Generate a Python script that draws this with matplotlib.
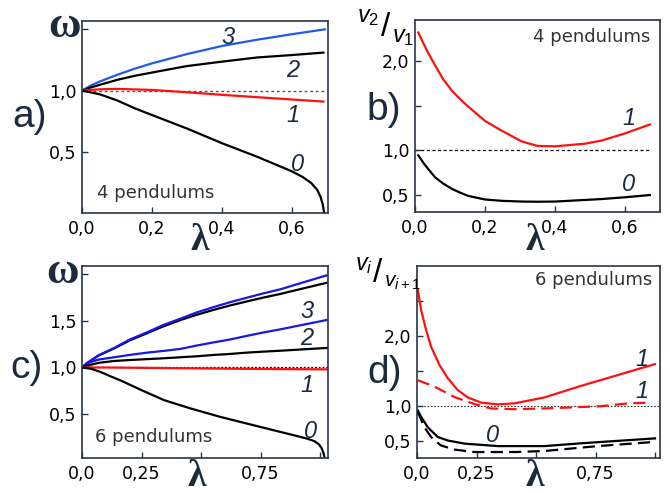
import matplotlib
matplotlib.use("Agg")
import matplotlib.pyplot as plt

# ── Data ─────────────────────────────────────────────────────────────────────
# a) 4 pendulums, frequencies
xa_3 = [0, 0.025, 0.05, 0.1, 0.15, 0.2, 0.3, 0.4, 0.5, 0.6, 0.694]
wa_3 = [1.0, 1.04, 1.073, 1.128, 1.178, 1.222, 1.298, 1.364, 1.415, 1.46, 1.50]
xa_2 = [0, 0.025, 0.05, 0.1, 0.15, 0.2, 0.3, 0.4, 0.5, 0.6, 0.69]
wa_2 = [1.0, 1.025, 1.046, 1.087, 1.12, 1.147, 1.20, 1.236, 1.27, 1.29, 1.31]
xa_1 = [0, 0.05, 0.1, 0.2, 0.3, 0.4, 0.5, 0.6, 0.69]
wa_1 = [1.0, 1.01, 1.014, 1.005, 0.986, 0.965, 0.946, 0.927, 0.91]
xa_0 = [0, 0.05, 0.1, 0.15, 0.2, 0.3, 0.4, 0.5, 0.6, 0.63, 0.655, 0.672, 0.682, 0.688, 0.692]
wa_0 = [1.0, 0.97, 0.92, 0.856, 0.80, 0.69, 0.57, 0.46, 0.34, 0.295, 0.245, 0.19, 0.13, 0.07, 0.0]

# b) 4 pendulums, amplitude ratio v2/v1
xb = [0.0095, 0.025, 0.038, 0.057, 0.08, 0.105, 0.13, 0.152, 0.2, 0.248, 0.305,
      0.35, 0.4, 0.486, 0.533, 0.6, 0.671]
rb_1 = [2.32, 2.19, 2.09, 1.955, 1.80, 1.67, 1.57, 1.49, 1.33, 1.22, 1.10,
        1.05, 1.045, 1.075, 1.11, 1.19, 1.29]
rb_0 = [0.944, 0.855, 0.79, 0.70, 0.63, 0.57, 0.525, 0.49, 0.45, 0.435, 0.427,
        0.425, 0.427, 0.445, 0.455, 0.475, 0.50]

# c) 6 pendulums, frequencies
xc_top = [0, 0.02, 0.07, 0.135, 0.2, 0.275, 0.34, 0.414, 0.48, 0.554, 0.62,
          0.693, 0.76, 0.833, 0.93, 1.028]
wc_top_blue = [1.0, 1.045, 1.13, 1.21, 1.30, 1.38, 1.455, 1.525, 1.59, 1.65,
               1.70, 1.75, 1.795, 1.84, 1.915, 1.99]
wc_top_black = [1.0, 1.045, 1.13, 1.205, 1.29, 1.37, 1.44, 1.51, 1.565, 1.62,
                1.665, 1.71, 1.75, 1.79, 1.85, 1.91]
xc_mid = [0, 0.038, 0.07, 0.135, 0.2, 0.275, 0.35, 0.414, 0.48, 0.554, 0.62,
          0.693, 0.76, 0.833, 0.93, 1.028]
wc_mid_blue = [1.0, 1.06, 1.085, 1.11, 1.135, 1.16, 1.18, 1.20, 1.235, 1.27,
               1.30, 1.34, 1.375, 1.41, 1.46, 1.51]
wc_mid_black = [1.0, 1.03, 1.05, 1.07, 1.08, 1.09, 1.10, 1.11, 1.12, 1.135,
                1.145, 1.16, 1.17, 1.18, 1.195, 1.21]
xc_1 = [0, 0.1, 0.3, 0.5, 0.7, 0.9, 1.028]
wc_1 = [1.0, 1.0, 0.995, 0.99, 0.985, 0.982, 0.98]
xc_0 = [0, 0.04, 0.08, 0.12, 0.163, 0.247, 0.344, 0.456, 0.58, 0.72, 0.83,
        0.94, 0.975, 0.995, 1.007, 1.014, 1.018]
wc_0 = [1.0, 0.985, 0.95, 0.905, 0.86, 0.76, 0.65, 0.56, 0.47, 0.38, 0.31,
        0.24, 0.21, 0.175, 0.13, 0.08, 0.04]

# d) 6 pendulums, amplitude ratio vi/vi+1
xd_1 = [0.003, 0.017, 0.038, 0.059, 0.094, 0.129, 0.171, 0.213, 0.27, 0.34,
        0.41, 0.536, 0.69, 0.83, 1.0]
rd_1 = [2.67, 2.375, 2.09, 1.85, 1.59, 1.40, 1.23, 1.125, 1.05, 1.025,
        1.04, 1.125, 1.29, 1.43, 1.60]
xd_1d = [0.003, 0.073, 0.157, 0.241, 0.31, 0.41, 0.536, 0.635, 0.775, 0.888, 0.979]
rd_1d = [1.37, 1.28, 1.13, 1.03, 0.967, 0.957, 0.967, 0.98, 1.0, 1.04, 1.05]
xd_0 = [0.003, 0.017, 0.045, 0.087, 0.129, 0.2, 0.34, 0.536, 0.69, 1.0]
rd_0 = [0.94, 0.85, 0.70, 0.56, 0.51, 0.465, 0.43, 0.43, 0.47, 0.54]
xd_0d = [0.003, 0.031, 0.059, 0.10, 0.157, 0.241, 0.41, 0.536, 0.76, 1.0]
rd_0d = [0.92, 0.70, 0.56, 0.44, 0.38, 0.345, 0.345, 0.36, 0.43, 0.49]

# ── Style ────────────────────────────────────────────────────────────────────
W, H = 670, 493
NAVY = "#1c2a3e"
SPINE = "#2a3646"
RED = "#ff1010"
BLUE_A = "#1f5be8"
BLUE_C = "#1818e0"

plt.rcParams.update({
    "font.family": "DejaVu Sans",
    "mathtext.fontset": "custom",
    "mathtext.it": "Liberation Sans:italic",
    "mathtext.rm": "Liberation Sans",
})

fig = plt.figure(figsize=(W / 100, H / 100), dpi=100)


def px_axes(l, t, r, b):
    return fig.add_axes([l / W, 1 - b / H, (r - l) / W, (b - t) / H])


def fig_text(px, py, s, ha="center", **kw):
    fig.text(px / W, 1 - py / H, s, ha=ha, va="center", **kw)


def style(ax, xlim, ylim, xticks, xlabels, yticks, ylabels):
    ax.set_xlim(*xlim)
    ax.set_ylim(*ylim)
    ax.set_xticks(xticks)
    ax.set_xticklabels(xlabels)
    ax.set_yticks(yticks)
    ax.set_yticklabels(ylabels)
    ax.tick_params(direction="in", length=4, width=1, color=SPINE,
                   labelsize=12.5, labelcolor="black")
    ax.tick_params(axis="x", pad=5)
    ax.tick_params(axis="y", pad=4)
    for s in ax.spines.values():
        s.set_color(SPINE)
        s.set_linewidth(1.2)


def curve_label(ax, x, y, s):
    ax.text(x, y, s, fontsize=17, style="italic", family="Liberation Sans",
            color=NAVY, ha="center", va="center")


LW = 1.6

# ── a) ───────────────────────────────────────────────────────────────────────
ax = px_axes(82, 21, 328, 213)
ax.plot([0, 0.70], [1, 1], color="#555555", lw=1, ls=(0, (2, 2)), zorder=1)
ax.plot(xa_3, wa_3, color=BLUE_A, lw=LW)
ax.plot(xa_2, wa_2, color="black", lw=LW)
ax.plot(xa_1, wa_1, color=RED, lw=LW)
ax.plot(xa_0, wa_0, color="black", lw=LW)
style(ax, (0, 0.703), (0, 1.568), [0, 0.2, 0.4, 0.6],
      ["0,0", "0,2", "0,4", "0,6"], [0.5, 1.0, 1.5], ["0,5", "1,0", ""])
curve_label(ax, 0.417, 1.43, "3")
curve_label(ax, 0.603, 1.16, "2")
curve_label(ax, 0.603, 0.80, "1")
curve_label(ax, 0.617, 0.40, "0")
ax.text(0.061, 0.104, "4 pendulums", transform=ax.transAxes, fontsize=13,
        color="#333333", ha="left", va="center")

# ── b) ───────────────────────────────────────────────────────────────────────
ax = px_axes(415, 20, 660, 212)
ax.plot([0, 0.67], [1, 1], color="black", lw=0.9, ls=(0, (2.5, 2)), zorder=1)
ax.plot(xb, rb_1, color=RED, lw=LW)
ax.plot(xb, rb_0, color="black", lw=LW)
style(ax, (0, 0.70), (0.31, 2.46), [0, 0.2, 0.4, 0.6],
      ["0,0", "0,2", "0,4", "0,6"], [0.5, 1.0, 1.5, 2.0],
      ["0,5", "1,0", "", "2,0"])
curve_label(ax, 0.61, 1.356, "1")
curve_label(ax, 0.61, 0.62, "0")
ax.text(0.959, 0.911, "4 pendulums", transform=ax.transAxes, fontsize=13,
        color="#333333", ha="right", va="center")

# ── c) ───────────────────────────────────────────────────────────────────────
ax = px_axes(82, 266, 328, 458)
ax.plot([0, 1.033], [1, 1], color="black", lw=0.9, ls=(0, (1.5, 1.5)), zorder=1)
ax.plot(xc_top, wc_top_black, color="black", lw=LW)
ax.plot(xc_top, wc_top_blue, color=BLUE_C, lw=LW)
ax.plot(xc_mid, wc_mid_blue, color=BLUE_C, lw=LW)
ax.plot(xc_mid, wc_mid_black, color="black", lw=LW)
ax.plot(xc_1, wc_1, color=RED, lw=LW)
ax.plot(xc_0, wc_0, color="black", lw=LW)
style(ax, (0, 1.033), (0.028, 2.09), [0, 0.25, 0.5, 0.75, 1.0],
      ["0,0", "0,25", "", "0,75", ""], [0.5, 1.0, 1.5, 2.0],
      ["0,5", "1,0", "1,5", ""])
curve_label(ax, 0.944, 1.596, "3")
curve_label(ax, 0.944, 1.31, "2")
curve_label(ax, 0.944, 0.81, "1")
curve_label(ax, 0.958, 0.31, "0")
ax.text(0.053, 0.109, "6 pendulums", transform=ax.transAxes, fontsize=13,
        color="#333333", ha="left", va="center")

# ── d) ───────────────────────────────────────────────────────────────────────
ax = px_axes(417, 266, 660, 458)
ax.plot([0, 1.02], [1, 1], color="#333333", lw=0.8, ls=(0, (1.5, 1.5)), zorder=1)
ax.plot(xd_1, rd_1, color=RED, lw=LW)
ax.plot(xd_1d, rd_1d, color=RED, lw=LW, ls=(0, (5.5, 2.8)))
ax.plot(xd_0, rd_0, color="black", lw=LW)
ax.plot(xd_0d, rd_0d, color="black", lw=LW, ls=(0, (5.5, 2.8)))
style(ax, (0, 1.021), (0.26, 3.0), [0, 0.25, 0.5, 0.75, 1.0],
      ["0,0", "0,25", "", "0,75", ""], [0.5, 1.0, 1.5, 2.0, 2.5],
      ["0,5", "1,0", "", "2,0", ""])
curve_label(ax, 0.944, 1.66, "1")
curve_label(ax, 0.944, 1.205, "1")
curve_label(ax, 0.319, 0.585, "0")
ax.text(0.967, 0.927, "6 pendulums", transform=ax.transAxes, fontsize=13,
        color="#333333", ha="right", va="center")

# ── Panel letters, axis symbols ──────────────────────────────────────────────
for (px, py), s in zip([(30, 117), (384, 110), (27, 368), (385, 373)],
                       ["a)", "b)", "c)", "d)"]):
    fig_text(px, py, s, fontsize=28, family="Liberation Sans", color=NAVY)

for px, py in [(65, 26), (63, 272)]:
    fig_text(px, py, "ω", fontsize=32, family="Liberation Serif",
             fontweight="bold", color=NAVY)

for px, py in [(200, 240), (535, 240), (197, 476), (535, 476)]:
    fig_text(px, py, "λ", fontsize=27, family="Liberation Serif",
             fontweight="bold", color=NAVY)

# v2/v1 and vi/vi+1 labels
fig_text(379, 16, r"$\mathit{v_2}$", ha="right", fontsize=17, color="black")
fig_text(386, 27, "/", fontsize=24, color="black", family="Liberation Sans")
fig_text(392, 36, r"$\mathit{v_1}$", ha="left", fontsize=17, color="black")

fig_text(373, 264, r"$\mathit{v_i}$", ha="right", fontsize=17, color="black")
fig_text(378, 274, "/", fontsize=24, color="black", family="Liberation Sans")
fig_text(384, 282, r"$\mathit{v_{i+1}}$", ha="left", fontsize=15, color="black")

fig.savefig("out.png", dpi=100, facecolor="white")
